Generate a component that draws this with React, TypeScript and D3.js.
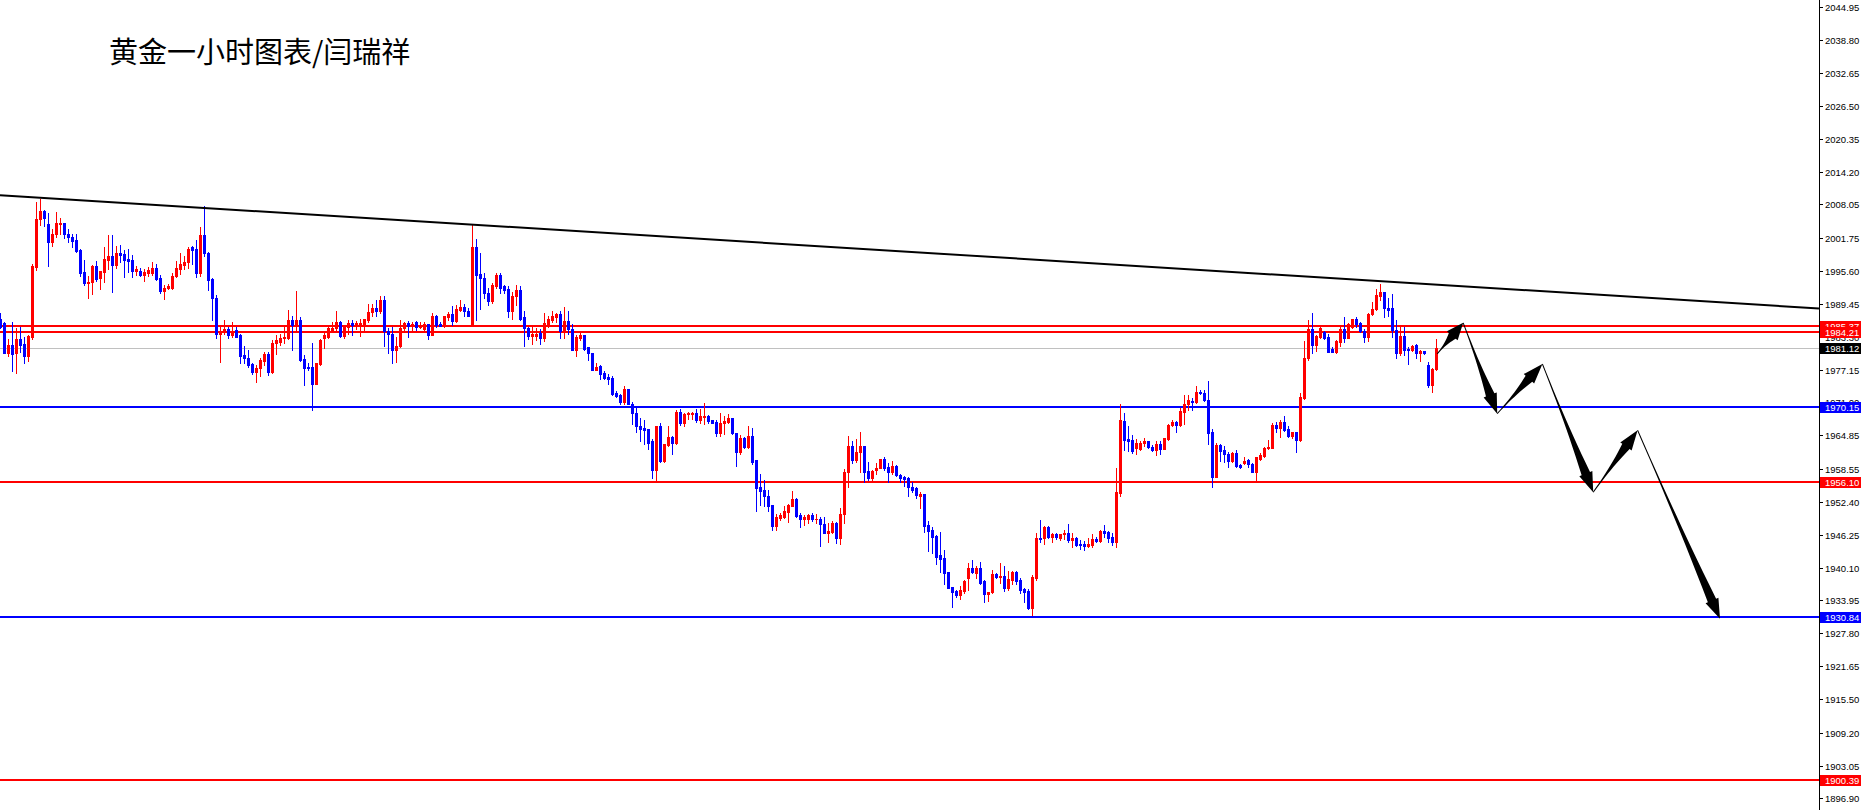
import React from 'react';
import * as d3 from 'd3';

// ---------- data ----------
const TITLE = '黄金一小时图表/闫瑞祥';

const TICK_LABELS = [
  '2044.95', '2038.80', '2032.65', '2026.50', '2020.35', '2014.20', '2008.05', '2001.75',
  '1995.60', '1989.45', '1983.30', '1977.15', '1971.00', '1964.85', '1958.55', '1952.40',
  '1946.25', '1940.10', '1933.95', '1927.80', '1921.65', '1915.50', '1909.20', '1903.05', '1896.90',
];

const LEVELS = [1985.37, 1984.21, 1970.15, 1956.10, 1930.84, 1900.39];
const LEVEL_COLORS = ['#ff0000', '#ff0000', '#0000ff', '#ff0000', '#0000ff', '#ff0000'];
const BID = 1981.12;

// trend line anchors: [bar index, price]
const TREND = [[0, 2009.78], [454.75, 1988.59]];
// forecast zig-zag arrows: [bar index, price]
const ARROW_PATH = [
  [359.3, 1980.1], [365.8, 1985.9], [374.3, 1968.9], [385.6, 1978.2],
  [398.3, 1954.2], [409.4, 1965.8], [430.0, 1930.5],
];

// OHLC candles, hourly
const SEG_A = [
  [1986.6,1987.7,1984.9,1985.2],[1985.8,1986.1,1980.3,1980.3],[1980.3,1982.8,1979.7,1981.7],[1981.7,1986.0,1976.8,1980.1],
  [1980.2,1985.0,1976.6,1982.9],[1982.9,1985.2,1980.5,1981.7],[1982.0,1983.3,1978.4,1979.6],[1979.6,1983.6,1978.8,1983.4],
  [1983.3,1996.9,1982.8,1996.5],[1996.4,2008.5,1995.7,2005.3],[2005.3,2009.0,2004.3,2006.8],[2006.8,2007.0,2004.1,2005.5],
  [2004.4,2006.5,1996.5,2001.1],[2001.1,2003.4,2000.3,2002.6],[2002.5,2006.6,2002.0,2004.5],[2004.4,2005.6,2002.5,2004.5],
  [2004.5,2004.5,2001.7,2002.5],[2002.6,2003.4,2001.1,2001.9],[2001.9,2002.5,2000.0,2001.3],[2001.4,2002.5,1999.1,1999.3],
  [1999.5,1999.7,1994.7,1995.3],[1995.4,1997.7,1993.0,1993.4],[1993.4,1994.7,1990.6,1993.6],[1993.5,1996.7,1991.3,1996.5],
  [1996.5,1997.5,1993.8,1994.1],[1994.2,1995.6,1992.3,1995.6],[1995.5,2000.0,1993.5,1997.8],[1997.7,2002.3,1996.0,1998.4],
  [1998.4,2002.3,1991.7,1996.7],[1996.7,2000.3,1996.1,1998.9],[1999.0,2000.5,1997.3,1998.6],[1998.8,1999.5,1994.4,1997.7],
  [1997.8,1999.7,1995.4,1997.5],[1997.7,1998.6,1994.5,1995.6],[1995.6,1996.5,1994.9,1996.0],[1995.6,1996.1,1994.7,1994.9],
  [1994.8,1996.0,1993.8,1995.5],[1995.3,1996.4,1994.7,1995.7],[1995.3,1997.2,1994.9,1996.1],[1996.1,1996.9,1993.9,1994.1],
  [1994.2,1994.9,1991.4,1991.9],[1991.9,1993.0,1990.4,1992.5],[1992.4,1993.1,1992.2,1992.7],[1992.5,1995.2,1992.2,1994.7],
  [1994.7,1997.5,1994.4,1996.1],[1996.0,1998.9,1995.0,1996.9],[1996.7,1998.5,1995.9,1997.3],[1997.2,2000.0,1996.2,1999.8],
  [2000.0,2000.3,1996.9,1999.5],[1999.7,2001.4,1994.4,1995.3],[1995.3,2003.8,1994.7,2002.3],[2002.3,2007.8,1998.4,1998.9],
  [1999.0,1999.2,1992.0,1994.0],[1994.1,1994.2,1986.4,1990.5],[1990.5,1991.1,1983.0,1983.9],[1983.9,1985.3,1978.6,1984.2],
  [1984.1,1986.5,1983.9,1984.7],[1984.7,1985.2,1983.0,1983.7],[1983.7,1986.0,1983.3,1984.4],[1984.5,1985.2,1983.3,1983.3],
];
const SEG_B = [
  [1983.6,1983.9,1978.4,1979.7],[1979.9,1981.6,1978.3,1979.3],[1979.3,1980.8,1977.7,1978.0],[1978.2,1978.3,1976.4,1976.7],
  [1976.7,1978.0,1974.9,1977.4],[1977.4,1979.3,1975.9,1978.9],[1978.8,1980.5,1978.0,1980.0],[1980.0,1980.4,1976.1,1976.7],
  [1976.7,1982.7,1976.6,1982.2],[1982.2,1983.6,1980.1,1982.6],[1982.4,1983.9,1981.7,1983.1],[1983.0,1985.2,1982.2,1983.3],
  [1983.1,1988.3,1982.8,1986.4],[1986.4,1987.2,1980.8,1985.5],[1985.5,1991.9,1984.6,1986.4],[1986.4,1987.0,1978.8,1978.9],
  [1979.1,1979.9,1974.3,1977.5],[1977.7,1978.3,1977.1,1977.4],[1977.6,1982.1,1969.6,1974.4],[1974.4,1978.4,1974.4,1978.3],
  [1978.2,1982.8,1978.0,1982.6],[1983.0,1984.2,1981.1,1983.6],[1983.3,1985.2,1983.0,1984.9],[1984.2,1986.0,1984.1,1985.0],
  [1985.0,1988.1,1984.1,1986.0],[1986.0,1986.3,1983.3,1983.5],[1983.5,1985.5,1983.0,1985.3],[1985.2,1986.4,1983.9,1985.8],
  [1985.8,1986.4,1983.7,1985.5],[1985.5,1986.3,1984.7,1985.8],[1985.6,1986.7,1983.5,1985.8],[1985.3,1986.7,1984.6,1986.6],
  [1986.4,1989.4,1986.1,1988.0],[1988.0,1989.5,1987.1,1988.6],[1988.6,1990.2,1987.2,1988.1],[1988.1,1990.9,1987.8,1990.2],
  [1990.2,1990.9,1981.6,1984.4],[1984.4,1984.9,1980.2,1983.9],[1983.9,1985.1,1978.4,1980.8],[1980.8,1983.3,1978.6,1981.6],
  [1981.6,1986.4,1981.3,1984.9],[1984.9,1986.1,1984.6,1985.8],[1985.8,1986.3,1983.3,1985.3],[1985.3,1986.0,1984.2,1985.6],
  [1986.0,1986.3,1984.6,1985.2],[1985.1,1986.1,1984.9,1985.3],[1984.7,1986.0,1984.6,1985.7],[1985.7,1985.7,1982.9,1983.6],
  [1983.6,1987.8,1983.6,1987.2],[1987.2,1987.4,1985.2,1985.5],[1985.6,1986.0,1985.3,1985.4],[1985.3,1987.2,1985.2,1987.1],
  [1986.9,1988.0,1986.4,1987.6],[1987.6,1989.0,1985.5,1986.3],[1986.3,1989.2,1986.0,1988.4],[1988.3,1990.2,1988.2,1988.9],
  [1988.8,1989.5,1987.1,1988.1],[1988.1,1988.6,1987.1,1987.2],[1985.5,2004.2,1985.3,2000.0],[2000.0,2001.5,1986.4,1994.8],
];
const SEG_C = [
  [1995.0,1999.0,1988.4,1994.2],[1994.2,1995.2,1990.5,1991.4],[1991.4,1992.4,1989.2,1990.0],[1990.0,1993.4,1989.7,1993.0],
  [1992.8,1995.2,1992.5,1994.8],[1994.8,1995.2,1991.4,1992.5],[1992.7,1993.0,1991.5,1992.0],[1992.2,1992.8,1986.9,1988.1],
  [1988.1,1991.7,1986.6,1990.9],[1990.9,1993.0,1989.2,1992.0],[1992.0,1992.8,1986.4,1986.7],[1986.9,1988.1,1981.6,1984.9],
  [1984.9,1985.2,1982.8,1983.4],[1983.4,1985.2,1981.9,1983.8],[1983.4,1984.9,1982.7,1983.9],[1984.0,1984.7,1981.9,1983.1],
  [1983.1,1987.7,1982.5,1985.8],[1985.7,1987.2,1985.2,1986.6],[1986.4,1988.1,1986.1,1987.2],[1986.9,1987.7,1986.1,1987.5],
  [1987.5,1988.1,1983.1,1984.4],[1984.4,1988.8,1983.1,1986.2],[1986.2,1988.1,1983.9,1984.7],[1984.7,1985.6,1980.8,1980.9],
  [1980.9,1983.6,1979.6,1983.2],[1983.0,1984.0,1982.7,1983.6],[1983.6,1983.6,1980.8,1981.0],[1981.3,1981.4,1978.9,1980.2],
  [1980.2,1980.3,1977.1,1977.1],[1977.1,1978.4,1977.1,1977.6],[1977.8,1978.1,1975.4,1976.3],[1976.6,1976.9,1975.3,1975.6],
  [1975.8,1976.4,1974.5,1975.4],[1975.5,1975.9,1972.4,1972.6],[1972.7,1973.1,1972.0,1972.2],[1972.4,1972.5,1970.8,1971.1],
  [1971.0,1974.1,1970.7,1973.5],[1973.5,1973.6,1970.7,1970.8],[1970.8,1971.1,1967.0,1969.1],[1969.1,1970.1,1965.5,1966.5],
  [1966.5,1968.1,1963.8,1966.0],[1966.3,1967.8,1963.3,1965.8],[1966.0,1966.0,1962.3,1963.5],[1963.8,1964.1,1956.8,1958.4],
  [1958.4,1966.6,1956.4,1966.5],[1966.5,1967.2,1959.8,1960.0],[1960.0,1963.3,1959.8,1963.2],[1963.0,1966.5,1962.9,1964.5],
  [1964.6,1964.8,1961.3,1963.5],[1963.5,1969.6,1963.3,1969.3],[1969.3,1969.8,1966.8,1967.1],[1967.1,1969.0,1966.6,1968.8],
  [1968.8,1969.3,1967.9,1969.0],[1968.8,1969.3,1967.9,1969.0],[1969.0,1969.8,1967.4,1967.7],[1967.7,1969.7,1967.1,1968.5],
  [1968.3,1970.9,1966.9,1968.5],[1968.5,1968.6,1967.2,1967.5],[1967.7,1967.7,1967.2,1967.2],[1967.4,1967.7,1964.7,1965.3],
];
const SEG_D = [
  [1965.3,1969.1,1964.7,1967.2],[1967.1,1968.5,1965.1,1967.6],[1967.4,1968.8,1967.2,1968.0],[1968.0,1968.0,1965.1,1965.2],
  [1965.2,1965.2,1959.1,1961.8],[1961.8,1964.9,1961.3,1964.3],[1964.3,1964.5,1962.4,1962.6],[1962.6,1966.6,1962.4,1964.7],
  [1964.7,1966.2,1959.5,1959.8],[1960.2,1960.3,1950.6,1955.0],[1955.1,1957.7,1951.8,1954.5],[1954.6,1956.5,1951.6,1953.4],
  [1953.5,1954.6,1950.6,1951.6],[1951.8,1951.8,1947.1,1947.9],[1947.9,1950.1,1947.1,1949.6],[1949.3,1950.4,1949.0,1949.9],
  [1949.6,1951.6,1949.3,1950.7],[1950.5,1952.0,1948.7,1951.8],[1951.7,1954.4,1951.6,1953.0],[1953.0,1953.2,1949.6,1949.7],
  [1949.9,1950.4,1947.6,1949.1],[1949.1,1949.9,1948.1,1949.6],[1949.1,1950.2,1948.5,1949.9],[1949.9,1950.4,1948.9,1949.1],
  [1949.1,1950.2,1948.5,1949.2],[1949.2,1949.6,1944.2,1948.2],[1948.2,1949.6,1946.5,1946.6],[1946.6,1948.5,1944.9,1946.9],
  [1946.8,1948.9,1946.5,1948.5],[1948.5,1948.7,1944.7,1945.6],[1945.6,1951.3,1944.6,1950.2],[1950.2,1958.5,1948.4,1957.9],
  [1957.9,1964.8,1955.2,1962.8],[1962.8,1963.7,1959.6,1960.2],[1960.2,1964.1,1959.8,1961.7],[1961.7,1965.4,1958.0,1962.9],
  [1962.8,1962.8,1956.2,1958.0],[1958.2,1959.9,1956.5,1956.9],[1956.9,1958.4,1956.5,1958.2],[1958.4,1959.6,1957.7,1958.8],
  [1958.7,1960.5,1958.7,1960.4],[1960.4,1960.7,1958.4,1958.7],[1958.9,1959.6,1956.2,1958.0],[1957.9,1960.1,1957.6,1959.2],
  [1959.2,1959.3,1957.2,1957.4],[1957.5,1957.7,1956.2,1956.9],[1957.0,1957.2,1955.4,1956.7],[1956.8,1957.0,1953.4,1955.1],
  [1955.1,1956.2,1954.3,1954.6],[1954.9,1955.1,1953.2,1953.7],[1953.5,1954.2,1951.2,1953.8],[1953.8,1953.8,1946.8,1947.9],
  [1948.1,1948.9,1943.2,1947.0],[1947.1,1947.6,1942.9,1945.9],[1946.0,1946.2,1940.8,1942.1],[1942.4,1946.8,1939.3,1941.7],
  [1941.9,1943.3,1937.0,1939.0],[1939.3,1939.3,1936.2,1936.3],[1936.4,1936.5,1932.8,1935.6],[1935.7,1935.9,1934.5,1935.0],
];
const SEG_E = [
  [1935.0,1936.6,1934.2,1935.9],[1935.8,1937.8,1935.4,1937.6],[1938.1,1941.0,1935.9,1940.1],[1940.1,1941.6,1939.0,1939.2],
  [1939.0,1940.3,1938.1,1940.1],[1940.1,1941.2,1937.1,1937.3],[1937.6,1937.8,1933.7,1935.1],[1935.1,1935.6,1933.9,1935.5],
  [1935.5,1939.6,1935.3,1938.9],[1938.9,1939.0,1938.1,1938.4],[1938.4,1940.9,1937.3,1938.5],[1938.5,1940.3,1935.7,1936.3],
  [1936.3,1939.5,1935.9,1937.9],[1937.8,1939.5,1937.1,1939.3],[1939.3,1939.5,1937.1,1937.6],[1937.8,1938.1,1935.4,1935.9],
  [1936.0,1936.2,1933.7,1935.5],[1935.7,1936.0,1932.3,1932.5],[1932.5,1938.7,1931.2,1938.3],[1938.1,1946.5,1937.8,1945.6],
  [1945.6,1949.0,1944.8,1945.4],[1945.6,1947.9,1944.6,1947.7],[1947.7,1947.9,1945.7,1945.9],[1945.9,1946.6,1944.9,1946.4],
  [1946.4,1946.5,1945.4,1945.9],[1945.6,1946.4,1945.3,1946.4],[1946.3,1947.1,1945.4,1946.6],[1946.6,1948.2,1944.9,1945.3],
  [1945.3,1946.5,1944.0,1945.6],[1945.6,1945.8,1944.2,1944.3],[1944.6,1945.3,1943.6,1944.3],[1944.6,1945.1,1943.4,1944.2],
  [1944.2,1945.7,1943.9,1944.6],[1944.3,1946.4,1944.0,1945.4],[1945.4,1945.8,1944.8,1945.1],[1945.1,1947.1,1944.8,1946.9],
  [1946.9,1948.1,1945.9,1946.6],[1946.8,1946.9,1944.8,1945.7],[1945.9,1946.6,1944.3,1944.8],[1944.8,1958.8,1944.0,1954.3],
  [1954.1,1970.8,1953.4,1967.7],[1967.5,1969.0,1962.1,1964.0],[1964.2,1966.5,1962.0,1963.8],[1964.0,1964.9,1961.6,1961.9],
  [1962.4,1964.1,1961.4,1963.5],[1962.2,1963.7,1962.1,1963.5],[1963.5,1964.3,1962.8,1963.7],[1963.7,1963.8,1962.4,1962.7],
  [1962.7,1963.0,1961.9,1962.1],[1962.1,1963.7,1961.2,1963.3],[1963.3,1963.8,1961.3,1962.2],[1962.2,1964.3,1962.2,1964.3],
  [1964.1,1966.9,1964.0,1966.8],[1966.7,1967.7,1966.5,1967.3],[1967.3,1967.5,1965.5,1966.7],[1966.7,1970.0,1966.5,1969.4],
  [1969.3,1972.4,1967.0,1970.8],[1970.7,1972.4,1969.6,1971.5],[1971.3,1971.9,1969.6,1971.1],[1971.1,1974.0,1970.9,1972.9],
];
const SEG_F = [
  [1972.9,1973.3,1972.5,1972.7],[1972.8,1973.3,1971.3,1971.4],[1971.4,1975.0,1963.2,1965.3],[1965.4,1966.0,1955.1,1957.1],
  [1957.1,1963.5,1957.0,1963.0],[1963.0,1963.3,1960.1,1962.0],[1962.1,1962.8,1959.9,1961.3],[1961.3,1961.8,1959.0,1960.1],
  [1960.1,1961.8,1959.9,1961.6],[1961.6,1962.1,1959.0,1959.2],[1959.3,1959.4,1958.8,1959.0],[1959.6,1960.7,1959.5,1960.1],
  [1960.2,1960.5,1959.0,1959.4],[1959.5,1959.7,1957.9,1958.0],[1958.0,1960.8,1956.2,1960.7],[1960.5,1961.5,1960.3,1961.2],
  [1961.0,1962.7,1960.7,1962.5],[1962.4,1964.0,1962.2,1962.7],[1962.5,1967.1,1962.4,1966.8],[1966.8,1967.4,1965.5,1966.3],
  [1966.3,1967.7,1964.6,1967.3],[1967.3,1968.5,1965.7,1965.8],[1966.0,1966.5,1964.6,1964.7],[1964.7,1965.5,1964.3,1965.4],
  [1965.4,1965.4,1961.8,1964.0],[1964.0,1972.8,1963.8,1972.1],[1971.9,1982.5,1971.6,1979.4],[1979.4,1986.4,1978.9,1984.7],
  [1984.7,1987.7,1980.2,1981.7],[1981.7,1983.7,1980.6,1983.5],[1983.3,1985.2,1983.1,1984.9],[1984.1,1984.4,1982.8,1983.1],
  [1983.3,1983.9,1980.4,1980.5],[1981.0,1981.3,1980.4,1980.5],[1980.5,1982.7,1980.2,1982.5],[1982.4,1985.1,1981.6,1984.7],
  [1984.7,1986.9,1982.4,1983.1],[1983.1,1985.8,1983.0,1985.7],[1985.1,1986.7,1984.9,1986.6],[1986.6,1987.0,1985.2,1985.7],
  [1985.8,1986.1,1984.2,1984.4],[1984.4,1984.7,1982.4,1983.3],[1983.3,1987.8,1982.5,1987.5],[1987.5,1989.8,1987.4,1988.5],
  [1988.5,1992.2,1988.3,1991.1],[1990.9,1993.2,1990.2,1991.6],[1991.6,1991.7,1986.9,1988.6],[1988.6,1990.5,1987.2,1988.3],
  [1988.6,1991.3,1983.3,1984.6],[1984.6,1986.4,1979.3,1980.2],[1980.2,1985.2,1979.8,1983.5],[1983.5,1985.1,1979.9,1980.8],
  [1981.0,1981.4,1978.2,1980.8],[1980.8,1981.7,1980.7,1981.6],[1981.7,1981.9,1979.4,1980.2],[1980.2,1980.9,1978.8,1980.7],
  [1980.6,1980.6,1980.1,1980.2],[1978.1,1978.5,1973.9,1974.3],[1974.3,1977.5,1973.0,1977.3],[1977.2,1982.8,1977.1,1981.1],
];

// ---------- layout ----------
const W = 1863;
const H = 810;
const AXIS_X = 1819;
const UP = '#ff0000';
const DOWN = '#0000ff';
const AXIS_FONT = '"Liberation Sans", Arial, sans-serif';

function arrowPolygon(x1: number, y1: number, x2: number, y2: number): string {
  const dx = x2 - x1, dy = y2 - y1;
  const len = Math.hypot(dx, dy);
  const ux = dx / len, uy = dy / len;
  const nx = -uy, ny = ux;
  const headLen = Math.min(20, len * 0.42);
  const headHalf = 7;
  const shaftLen = len - headLen;
  const left: string[] = [];
  const right: string[] = [];
  const steps = 12;
  for (let s = 0; s <= steps; s++) {
    const t = s / steps;
    const w = 0.5 + 4 * Math.pow(t, 2.2);
    const px = x1 + ux * shaftLen * t, py = y1 + uy * shaftLen * t;
    left.push(`${px + nx * w},${py + ny * w}`);
    right.unshift(`${px - nx * w},${py - ny * w}`);
  }
  const bx = x1 + ux * shaftLen, by = y1 + uy * shaftLen;
  const head = [
    `${bx + nx * headHalf},${by + ny * headHalf}`,
    `${x2},${y2}`,
    `${bx - nx * headHalf},${by - ny * headHalf}`,
  ];
  return [...left, ...head, ...right].join(' ');
}

export default function App() {
  const candles = [...SEG_A, ...SEG_B, ...SEG_C, ...SEG_D, ...SEG_E, ...SEG_F];
  const x = d3.scaleLinear().domain([0, 454.75]).range([0, AXIS_X]);
  const y = d3.scaleLinear().domain([2044.95, 1896.9]).range([7.3, 798.4]);
  const ry = (v: number) => Math.round(y(v));

  const trendLine = d3.line<number[]>().x((d) => x(d[0])).y((d) => y(d[1]));
  const arrowPts = ARROW_PATH.map(([i, p]) => [x(i), y(p)]);

  const levelBoxes = [
    ...LEVELS.map((v, i) => ({ v, fill: LEVEL_COLORS[i] })),
    { v: BID, fill: '#000000' },
  ];
  const boxOrder = [0, 1, 6, 2, 3, 4, 5].map((i) => levelBoxes[i]);

  return (
    <svg
      width={W}
      height={H}
      viewBox={`0 0 ${W} ${H}`}
      style={{ position: 'absolute', left: 0, top: 0, background: '#fff' }}
    >
      <rect x={0} y={0} width={W} height={H} fill="#fff" />

      <g shapeRendering="crispEdges">
        <rect x={0} y={ry(BID)} width={AXIS_X} height={1} fill="#c0c0c0" />
        {LEVELS.map((v, i) => (
          <rect key={i} x={0} y={ry(v) - 1} width={AXIS_X} height={2} fill={LEVEL_COLORS[i]} />
        ))}
      </g>

      <g shapeRendering="crispEdges">
        {candles.map(([o, h, l, c], k) => {
          const cx = Math.round(x(k));
          const col = c >= o ? UP : DOWN;
          const top = ry(Math.max(o, c));
          const bot = ry(Math.min(o, c));
          const wt = ry(h);
          const wb = ry(l);
          return (
            <g key={k} fill={col}>
              <rect x={cx} y={wt} width={1} height={Math.max(1, wb - wt + 1)} />
              <rect x={cx - 1} y={top} width={3} height={Math.max(1, bot - top + 1)} />
            </g>
          );
        })}
      </g>

      <path d={trendLine(TREND) || ''} stroke="#000" strokeWidth={2} fill="none" />

      <g fill="#000">
        {arrowPts.slice(1).map((p, i) => (
          <polygon key={i} points={arrowPolygon(arrowPts[i][0], arrowPts[i][1], p[0], p[1])} />
        ))}
      </g>

      <text
        x={109}
        y={63}
        fontSize={29}
        fontFamily='"Noto Sans CJK SC", sans-serif'
        fill="#000"
      >
        {TITLE}
      </text>

      <rect x={AXIS_X} y={0} width={1} height={H} fill="#000" shapeRendering="crispEdges" />
      <g fontFamily={AXIS_FONT} fontSize={9.5} fill="#000">
        {TICK_LABELS.map((t) => {
          const ty = ry(+t);
          return (
            <g key={t}>
              <rect x={AXIS_X} y={ty} width={4} height={1} fill="#000" shapeRendering="crispEdges" />
              <text x={1825} y={ty + 0.5} dominantBaseline="central">{t}</text>
            </g>
          );
        })}
      </g>
      <g fontFamily={AXIS_FONT} fontSize={9.5}>
        {boxOrder.map(({ v, fill }) => {
          const cy = ry(v);
          return (
            <g key={v}>
              <rect x={AXIS_X + 1} y={cy - 5} width={41} height={11} fill={fill} shapeRendering="crispEdges" />
              <text x={1825} y={cy + 0.5} dominantBaseline="central" fill="#fff">
                {v.toFixed(2)}
              </text>
            </g>
          );
        })}
      </g>
    </svg>
  );
}
